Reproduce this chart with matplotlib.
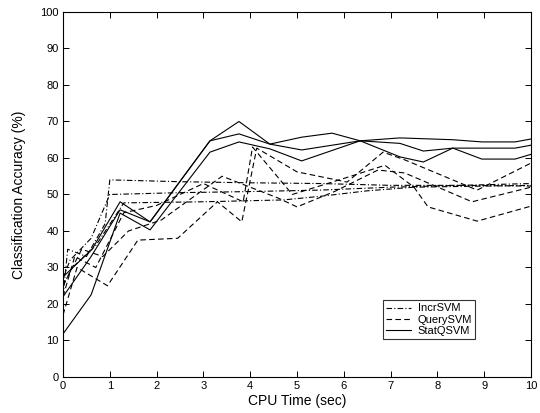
import matplotlib
matplotlib.use("Agg")
import matplotlib.pyplot as plt

plt.rcParams['font.family'] = ['Liberation Sans', 'DejaVu Sans']

# IncrSVM runs (dash-dot)
incr_x = [
    [0, 0.1, 0.5, 0.9, 1.0, 2.5, 4.0, 5.5, 7.0, 8.5, 10],
    [0, 0.15, 0.6, 1.0, 2.5, 4.0, 5.5, 7.0, 8.5, 10],
    [0, 0.2, 0.7, 1.3, 3.0, 4.7, 5.5, 6.5, 7.5, 10],
]
incr_y = [
    [22, 35, 33, 42, 54, 53.5, 53.2, 53, 52.5, 52.5, 52.3],
    [27, 32, 38, 50, 50.5, 50.8, 51.2, 52, 52.5, 53],
    [25, 30, 36, 47.7, 48, 48.5, 49.5, 51, 52, 52.5],
]

# QuerySVM runs (dashed)
query_x = [
    [0, 0.3, 0.95, 1.6, 2.45, 3.3, 3.82, 4.14, 5.0, 6.07, 6.84, 7.3, 8.85, 10],
    [0, 0.25, 0.7, 1.3, 2.0, 3.0, 3.85, 4.05, 4.9, 6.1, 6.88, 7.5, 7.8, 8.85, 10],
    [0, 0.4, 0.85, 1.4, 2.1, 3.4, 4.6, 5.0, 5.8, 6.73, 7.3, 8.74, 10],
]
query_y = [
    [17, 30, 25, 37.5, 38, 48, 42.5, 62.7, 56.2, 53.4, 61.6, 59.5, 51.2, 58.6],
    [22, 33, 30, 45, 47, 53, 48, 63, 50, 54.8, 58, 52, 46.6, 42.7, 46.8],
    [25, 35, 33, 40, 43, 55, 49, 46.6, 50.8, 56.7, 55.9, 48, 52],
]

# StatQSVM runs (solid)
stat_x = [
    [0, 0.62, 1.22, 1.86, 3.14, 3.76, 4.42, 5.1, 5.75, 6.35, 7.2, 7.7, 8.33, 8.95, 9.66, 10],
    [0, 0.6, 1.22, 1.86, 3.14, 3.76, 4.42, 5.1, 6.35, 7.2, 8.33, 8.95, 9.66, 10],
    [0, 0.6, 1.22, 1.86, 3.14, 3.76, 4.42, 5.1, 6.35, 7.2, 7.7, 8.33, 8.95, 9.66, 10],
]
stat_y = [
    [27.4, 35, 48, 42.5, 64.7, 70, 63.8, 65.7, 66.8, 64.7, 60.3, 58.9, 62.7, 59.7, 59.7, 61],
    [22, 33, 45.8, 42.5, 64.7, 66.6, 63.8, 62.2, 64.7, 65.5, 65, 64.4, 64.4, 65.2],
    [11.8, 22.5, 44.9, 40.3, 61.6, 64.4, 62.5, 59.2, 64.7, 64, 61.9, 62.7, 62.7, 62.7, 63.5],
]

x_ticks = list(range(0, 11))
y_ticks = list(range(0, 101, 10))

fig = plt.figure(figsize=(5.4, 4.13), dpi=100)
ax = fig.add_axes([0.1167, 0.0872, 0.8666, 0.8838])

lw = 0.8
for i, (xs, ys) in enumerate(zip(incr_x, incr_y)):
    ax.plot(xs, ys, color='black', lw=lw, dashes=[5, 2, 1, 2],
            label='IncrSVM' if i == 0 else None)
for i, (xs, ys) in enumerate(zip(query_x, query_y)):
    ax.plot(xs, ys, color='black', lw=lw, dashes=[5, 3],
            label='QuerySVM' if i == 0 else None)
for i, (xs, ys) in enumerate(zip(stat_x, stat_y)):
    ax.plot(xs, ys, color='black', lw=lw, linestyle='-',
            label='StatQSVM' if i == 0 else None)

ax.set_xlim(0, 10)
ax.set_ylim(0, 100)
ax.set_xticks(x_ticks)
ax.set_yticks(y_ticks)
ax.tick_params(direction='in', top=True, right=True, labelsize=8,
               length=4, width=0.7, pad=3)
for s in ax.spines.values():
    s.set_linewidth(0.8)

ax.set_xlabel('CPU Time (sec)', fontsize=10, labelpad=2)
ax.set_ylabel('Classification Accuracy (%)', fontsize=10, labelpad=10)

leg = ax.legend(loc='lower left', bbox_to_anchor=(0.684, 0.104), fontsize=8,
                frameon=True, fancybox=False, edgecolor='black',
                handlelength=2.2, handletextpad=0.6, borderpad=0.3,
                labelspacing=0.1, borderaxespad=0)
leg.get_frame().set_linewidth(0.8)

fig.savefig('out.png', dpi=100)
